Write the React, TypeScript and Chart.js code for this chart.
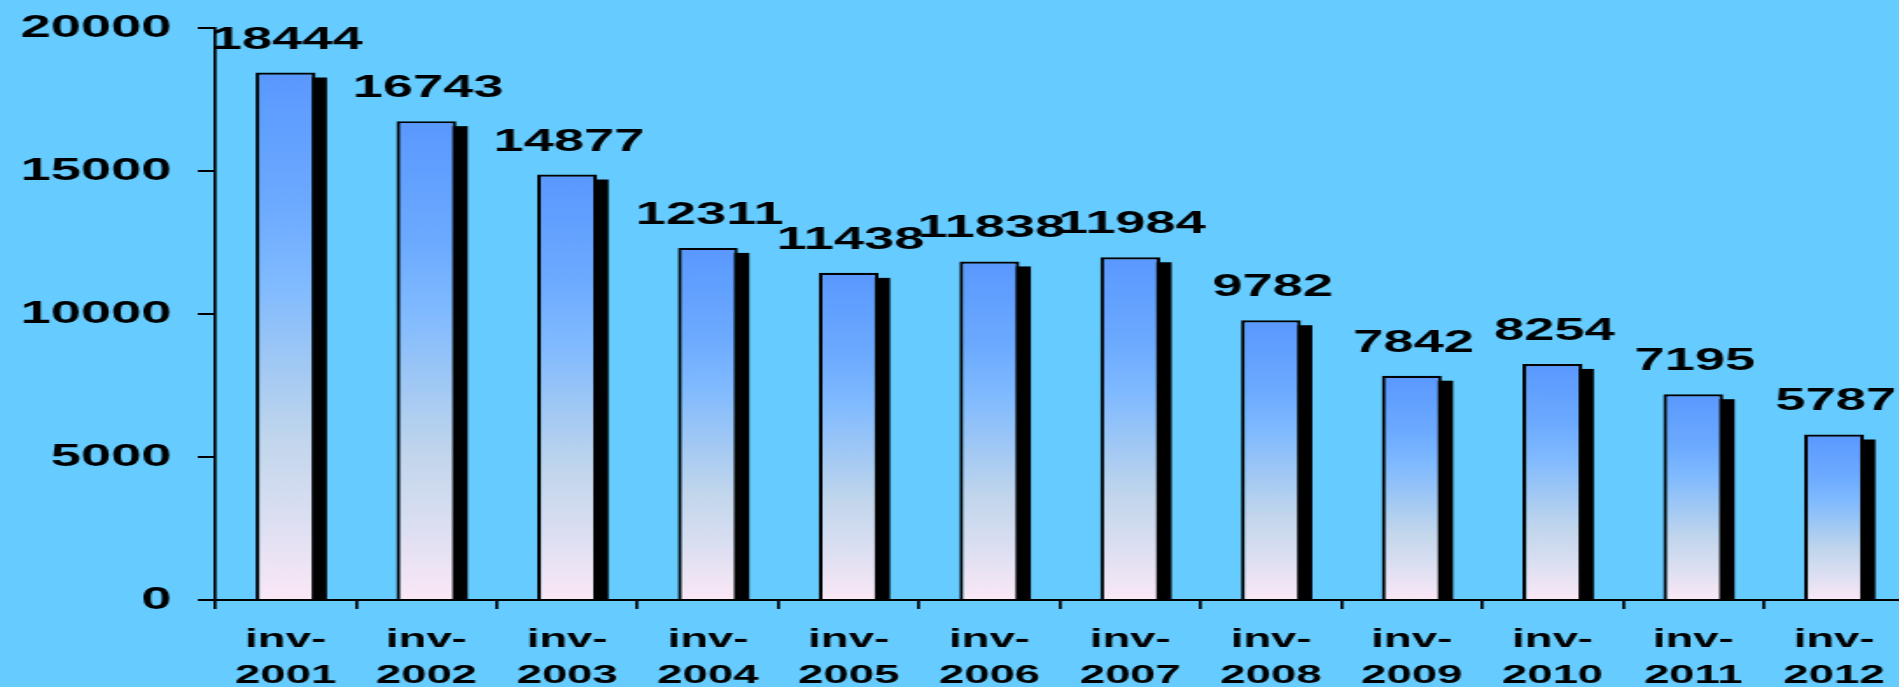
import React, { useEffect, useRef } from "react";
import { Chart, registerables } from "chart.js";

Chart.register(...registerables);

const categories: string[][] = [
  ["inv-", "2001"], ["inv-", "2002"], ["inv-", "2003"], ["inv-", "2004"],
  ["inv-", "2005"], ["inv-", "2006"], ["inv-", "2007"], ["inv-", "2008"],
  ["inv-", "2009"], ["inv-", "2010"], ["inv-", "2011"], ["inv-", "2012"],
];
const values: number[] = [18444, 16743, 14877, 12311, 11438, 11838, 11984, 9782, 7842, 8254, 7195, 5787];
const yMin = 0;
const yMax = 20000;
const yStep = 5000;

const STRETCH = 1.75;
const CANVAS_W = 1090;
const CANVAS_H = 687;
const FONT = "'Liberation Sans', Arial, sans-serif";

const shadowPlugin = {
  id: "barShadow",
  beforeDatasetsDraw(chart: any) {
    const ctx = chart.ctx;
    const meta = chart.getDatasetMeta(0);
    ctx.save();
    ctx.fillStyle = "#000";
    meta.data.forEach((el: any) => {
      const { x, y, base, width } = el.getProps(["x", "y", "base", "width"], true);
      ctx.fillRect(x - width / 2 + 6.5, y + 5, width, base + 2 - (y + 5));
    });
    ctx.restore();
  },
};

const labelPlugin = {
  id: "valueLabels",
  afterDatasetsDraw(chart: any) {
    const ctx = chart.ctx;
    const meta = chart.getDatasetMeta(0);
    const data = chart.data.datasets[0].data;
    ctx.save();
    ctx.font = `bold 31px ${FONT}`;
    ctx.fillStyle = "#000";
    ctx.textAlign = "center";
    ctx.textBaseline = "alphabetic";
    meta.data.forEach((el: any, i: number) => {
      const { x, y } = el.getProps(["x", "y"], true);
      const text = String(data[i]);
      const w = ctx.measureText(text).width;
      let cx = x + 1;
      const maxX = chart.width - 2;
      if (cx + w / 2 > maxX) cx = maxX - w / 2;
      ctx.fillText(text, cx, y - 24);
    });
    ctx.restore();
  },
};

export default function App() {
  const ref = useRef<HTMLCanvasElement | null>(null);
  useEffect(() => {
    if (!ref.current) return;
    const chart = new Chart(ref.current, {
      type: "bar",
      data: {
        labels: categories,
        datasets: [
          {
            data: values,
            backgroundColor: (c: any) => {
              const ch = c.chart;
              if (!ch.chartArea || c.raw === undefined) return "#7fb6ff";
              const ys = ch.scales.y;
              const top = ys.getPixelForValue(c.raw);
              const base = ys.getPixelForValue(0);
              const g = ch.ctx.createLinearGradient(0, top, 0, base);
              g.addColorStop(0, "#5a98ff");
              g.addColorStop(0.25, "#6caaff");
              g.addColorStop(0.4, "#80baff");
              g.addColorStop(0.55, "#a0c8f4");
              g.addColorStop(0.7, "#c2d6ec");
              g.addColorStop(0.85, "#dcdff2");
              g.addColorStop(1, "#fbe8f6");
              return g;
            },
            borderColor: "#000",
            borderWidth: 2.2,
            barPercentage: 0.426,
            categoryPercentage: 1,
          },
        ],
      },
      options: {
        responsive: false,
        animation: false,
        layout: { padding: { top: 28, right: 1, left: 0, bottom: 0 } },
        plugins: { legend: { display: false }, tooltip: { enabled: false } },
        scales: {
          x: {
            afterFit: (s: any) => { s.height = 87; },
            grid: {
              display: true,
              drawOnChartArea: false,
              drawTicks: true,
              tickLength: 9,
              color: "#000",
              lineWidth: 1.7,
              offset: true,
            },
            border: { display: true, color: "#000", width: 2 },
            ticks: {
              color: "#000",
              padding: 13,
              maxRotation: 0,
              autoSkip: false,
              font: { family: FONT, size: 26, weight: "bold", lineHeight: 1.385 },
            },
          },
          y: {
            min: yMin,
            max: yMax,
            afterFit: (s: any) => { s.width = 123; s.paddingTop = 0; s.paddingBottom = 0; },
            grid: {
              display: true,
              drawOnChartArea: false,
              drawTicks: true,
              tickLength: 10,
              color: "#000",
              lineWidth: 2,
            },
            border: { display: true, color: "#000", width: 1.7 },
            ticks: {
              stepSize: yStep,
              color: "#000",
              padding: 15,
              callback: (v: any) => String(v),
              font: { family: FONT, size: 31, weight: "bold" },
            },
          },
        },
      },
      plugins: [shadowPlugin, labelPlugin],
    } as any);
    return () => chart.destroy();
  }, []);

  return (
    <div
      style={{
        position: "fixed",
        left: 0,
        top: 0,
        width: 1899,
        height: 687,
        overflow: "hidden",
        background: "#66ccff",
      }}
    >
      <canvas
        ref={ref}
        width={CANVAS_W}
        height={CANVAS_H}
        style={{ display: "block", transform: `scaleX(${STRETCH})`, transformOrigin: "0 0" }}
      />
    </div>
  );
}
